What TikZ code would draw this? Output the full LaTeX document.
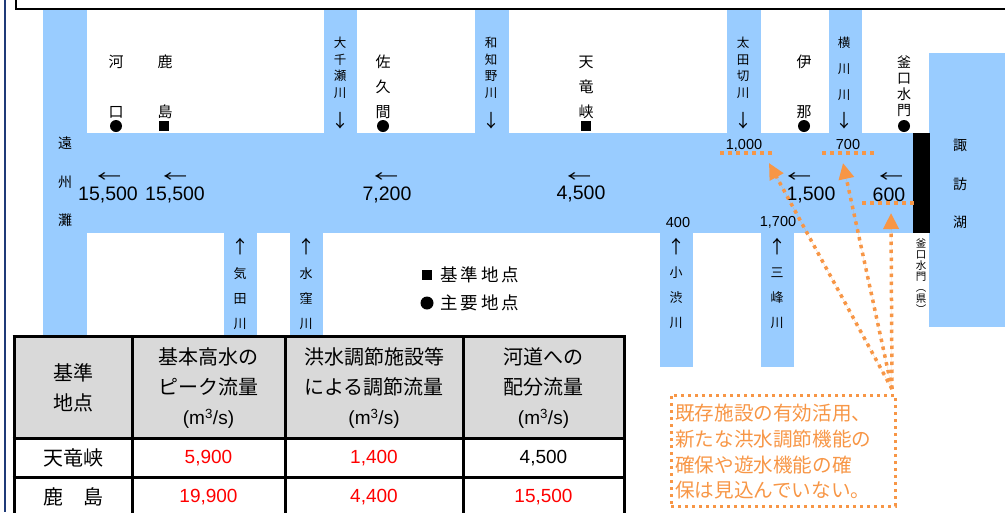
\documentclass[tikz,border=0pt]{standalone}
\usepackage{fontspec}
\setmainfont{Liberation Sans}
\newfontfamily\jp{Noto Sans CJK JP}
\usetikzlibrary{arrows.meta}
\definecolor{riv}{HTML}{99CCFF}
\definecolor{org}{HTML}{F79646}
\definecolor{navyline}{HTML}{1F3A78}
\definecolor{hdr}{HTML}{D9D9D9}
\definecolor{redtxt}{HTML}{FF0000}
\begin{document}
\begin{tikzpicture}[x=1pt,y=-1pt,
  river/.style={fill=riv},
  jl/.style={font=\jp\fontsize{15}{25}\selectfont, inner sep=0pt, align=center},
  vt/.style={font=\jp\fontsize{12.5}{16.6}\selectfont, inner sep=0pt, align=center},
  lt/.style={font=\jp\fontsize{13}{25}\selectfont, inner sep=0pt, align=center},
  num/.style={font=\fontsize{19.5}{20}\selectfont, inner sep=0pt},
  snum/.style={font=\fontsize{14.5}{16}\selectfont, inner sep=0pt},
  larr/.style={font=\jp\fontsize{16}{16}\selectfont, inner sep=0pt},
  varr/.style={font=\jp\fontsize{18}{18}\selectfont, inner sep=0pt},
  dotpt/.style={circle, fill=black, minimum size=12pt, inner sep=0pt},
  sqpt/.style={rectangle, fill=black, minimum size=10.5pt, inner sep=0pt},
  th/.style={font=\jp\fontsize{20}{30}\selectfont, inner sep=0pt, align=center},
  td/.style={font=\jp\fontsize{20}{24}\selectfont, inner sep=0pt},
  tn/.style={font=\fontsize{19}{22}\selectfont, inner sep=0pt},
  odot/.style={draw=org, line width=3.5pt, dash pattern=on 3.5pt off 4.5pt},
  oarr/.style={odot, -{Triangle[width=15pt,length=16pt]}, fill=org}
]
\newcommand{\lar}{\scalebox{1.5}[1]{←}}
\useasboundingbox (0,0) rectangle (1005,512);
% frame remnants
\draw[navyline, line width=2pt] (5,0) -- (5,512);
\draw[line width=2pt] (16,-30) rectangle (1030,9);
% rivers
\fill[river] (43,10) rectangle (87,336);
\fill[river] (43,133) rectangle (913,233);
\fill[river] (324,10) rectangle (357,133);
\fill[river] (475,10) rectangle (509,133);
\fill[river] (727,10) rectangle (761,133);
\fill[river] (829,10) rectangle (862,133);
\fill[river] (224,233) rectangle (257,336);
\fill[river] (290,233) rectangle (323,336);
\fill[river] (660,233) rectangle (693,367);
\fill[river] (761,233) rectangle (794,367);
\fill[river] (929,53) rectangle (1005,327);
\fill[black] (913,133) rectangle (930,233);
% place labels
\node[jl] (kako1) at (116,62) {河};
\node[jl] (kako2) at (116,112) {口};
\node[dotpt] (kakop) at (116,126) {};
\node[jl] (kas1) at (165,62) {鹿};
\node[jl] (kas2) at (165,112) {島};
\node[sqpt] (kasp) at (164,126) {};
\node[jl] (sak) at (383,87) {佐\\久\\間};
\node[dotpt] (sakp) at (383,126) {};
\node[jl] (ten) at (586,87) {天\\竜\\峡};
\node[sqpt] (tenp) at (586,126) {};
\node[jl] (ina1) at (804,62) {伊};
\node[jl] (ina2) at (804,112) {那};
\node[dotpt] (inap) at (804,126) {};
\node[jl, font=\jp\fontsize{14}{16.1}\selectfont] (kama) at (904,86) {釜\\口\\水\\門};
\node[dotpt] (kamap) at (904,126) {};
\node[jl, font=\jp\fontsize{14}{38.5}\selectfont] (ens) at (65,182) {遠\\州\\灘};
\node[jl, font=\jp\fontsize{14}{38.5}\selectfont] (suw) at (960,184) {諏\\訪\\湖};
% upper tributaries
\node[vt] (osen) at (340,68) {大\\千\\瀬\\川};
\node[varr] (osena) at (340,121) {↓};
\node[vt] (wachi) at (491,68) {和\\知\\野\\川};
\node[varr] (wachia) at (491,121) {↓};
\node[vt] (ota) at (743,68) {太\\田\\切\\川};
\node[vt, font=\jp\fontsize{12.5}{26}\selectfont] (yoko) at (844,69) {横\\川\\川};
\node[varr] (otaa) at (743,121) {↓};
\node[varr] (yokoa) at (844,121) {↓};
% lower tributaries
\node[varr] (kitaa) at (240,247) {↑};
\node[lt] (kita) at (240,299) {気\\田\\川};
\node[varr] (mizua) at (306,247) {↑};
\node[lt] (mizu) at (306,299) {水\\窪\\川};
\node[varr] (kosa) at (676,247) {↑};
\node[lt] (kos) at (676,298) {小\\渋\\川};
\node[varr] (mina) at (777,247) {↑};
\node[lt] (min) at (777,298) {三\\峰\\川};
\node[inner sep=0pt, align=center, font=\jp\fontsize{10.5}{11}\selectfont] (kamak) at (921,276) {釜\\口\\水\\門\\︵\\県\\︶};
% flows
\node[larr] (a1) at (109,178) {\lar};
\node[num] (n1) at (108,195) {15,500};
\node[larr] (a2) at (175,178) {\lar};
\node[num] (n2) at (175,195) {15,500};
\node[larr] (a3) at (386,178) {\lar};
\node[num] (n3) at (387,195) {7,200};
\node[larr] (a4) at (579,178) {\lar};
\node[num] (n4) at (581,194) {4,500};
\node[larr] (a5) at (799,178) {\lar};
\node[num] (n5) at (811,195) {1,500};
\node[larr] (a6) at (891,178) {\lar};
\node[num] (n6) at (889,195) {600};
\node[snum] (s1) at (744,145) {1,000};
\node[snum] (s2) at (848,145) {700};
\node[snum] (s3) at (678,223) {400};
\node[snum] (s4) at (778,222) {1,700};
% legend
\node[sqpt, minimum size=10pt] (lg1) at (427,275) {};
\node[td, font=\jp\fontsize{17.5}{20}\selectfont, anchor=west] (lg1t) at (440,275) {基\hspace{3pt}準\hspace{3pt}地\hspace{3pt}点};
\node[dotpt, minimum size=13pt] (lg2) at (427,303) {};
\node[td, font=\jp\fontsize{17.5}{20}\selectfont, anchor=west] (lg2t) at (440,303) {主\hspace{3pt}要\hspace{3pt}地\hspace{3pt}点};
% table
\fill[hdr] (14,336) rectangle (624,438);
\foreach \yy in {336,438,477} \draw[line width=3pt] (12.5,\yy) -- (625.5,\yy);
\foreach \xx in {14,132,285,463,624} \draw[line width=3pt] (\xx,336) -- (\xx,520);
\node[th] (h1) at (73,388) {基準\\地点};
\node[th] (h2) at (208.5,388) {基本高水の\\ピーク流量\\{\rmfamily\fontsize{19}{30}\selectfont (m\textsuperscript{3}/s)}};
\node[th] (h3) at (374,388) {洪水調節施設等\\による調節流量\\{\rmfamily\fontsize{19}{30}\selectfont (m\textsuperscript{3}/s)}};
\node[th] (h4) at (543.5,388) {河道への\\配分流量\\{\rmfamily\fontsize{19}{30}\selectfont (m\textsuperscript{3}/s)}};
\node[td] (r1c1) at (73,458) {天竜峡};
\node[tn, text=redtxt] (r1c2) at (208.5,458) {5,900};
\node[tn, text=redtxt] (r1c3) at (374,458) {1,400};
\node[tn] (r1c4) at (543.5,458) {4,500};
\node[td] (r2c1) at (73,497) {鹿　島};
\node[tn, text=redtxt] (r2c2) at (208.5,497) {19,900};
\node[tn, text=redtxt] (r2c3) at (374,497) {4,400};
\node[tn, text=redtxt] (r2c4) at (543.5,497) {15,500};
% callout
\node[draw=org, line width=3pt, dash pattern=on 3pt off 4pt, minimum width=224pt, minimum height=111pt, inner sep=0pt] (note) at (783,450.5) {};
\node[anchor=north west, align=left, text=org, inner sep=0pt, font=\jp\fontsize{19.6}{25.7}\selectfont] (notet) at (675,404) {既存施設の有効活用、\\新たな洪水調節機能の\\確保や遊水機能の確\\保は見込んでいない。};
\coordinate (src) at (892,389);
\coordinate (t1) at (769,163);
\coordinate (t2) at (843,163);
\coordinate (t3) at (891,213);
\draw[odot] (720,153) -- (772,153);
\draw[odot] (822,153) -- (875,153);
\draw[odot] (862,203) -- (915,203);
\draw[oarr] (src) -- (t1);
\draw[oarr] (src) -- (t2);
\draw[oarr] (src) -- (t3);
\end{tikzpicture}
\end{document}
